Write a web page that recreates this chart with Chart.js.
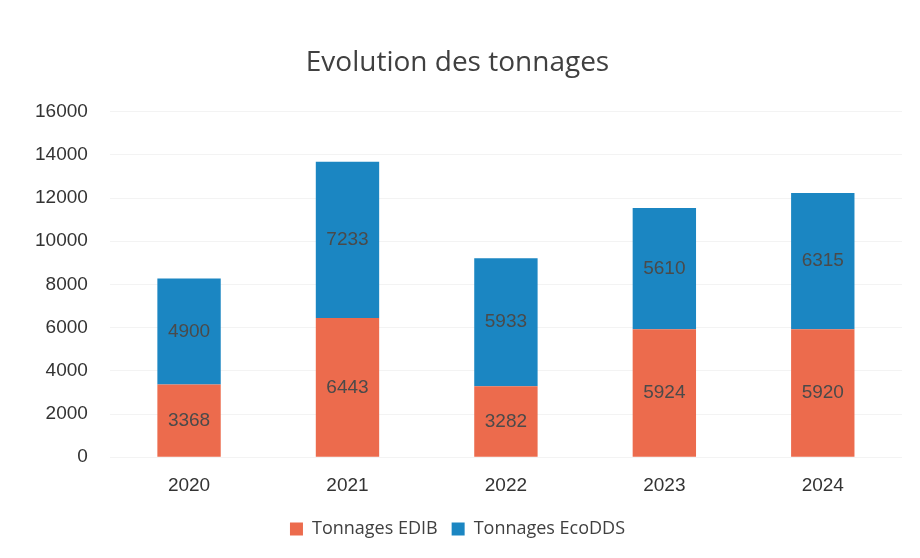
<!DOCTYPE html>
<html>
<head>
<meta charset="utf-8">
<script src="https://cdn.jsdelivr.net/npm/chart.js@4.4.1/dist/chart.umd.min.js"></script>
<style>
  html, body { margin: 0; padding: 0; background: #ffffff; }
  #wrap { width: 920px; height: 558px; }
</style>
</head>
<body>
<div id="wrap"><canvas id="chart" width="920" height="558"></canvas></div>
<script>
/* --------------- Data --------------------- */
const years = ["2020", "2021", "2022", "2023", "2024"];
const edib = [3368, 6443, 3282, 5924, 5920];
const ecodds = [4900, 7233, 5933, 5610, 6315];

/* --------------- Colors --------------------- */
const edibColor = "#EC6B4D";
const ecoddsColor = "#1B86C2";

/* --------------- Labels inside the bars --------------------- */
const barLabels = {
  id: "barLabels",
  afterDatasetsDraw(chart) {
    const ctx = chart.ctx;
    ctx.save();
    ctx.font = "19px 'Liberation Sans Narrow', 'Liberation Sans', sans-serif";
    ctx.fillStyle = "#4a4a4a";
    ctx.textAlign = "center";
    ctx.textBaseline = "middle";
    chart.data.datasets.forEach((ds, di) => {
      chart.getDatasetMeta(di).data.forEach((bar, i) => {
        const mid = (bar.y + bar.base) / 2;
        ctx.fillText(String(ds.data[i]), bar.x, mid);
      });
    });
    ctx.restore();
  }
};

let chart = new Chart(document.getElementById("chart"), {
  type: "bar",
  plugins: [barLabels],
  data: {
    labels: years,
    datasets: [
      { label: "Tonnages EDIB", data: edib, backgroundColor: edibColor, barPercentage: 0.8, categoryPercentage: 0.5 },
      { label: "Tonnages EcoDDS", data: ecodds, backgroundColor: ecoddsColor, barPercentage: 0.8, categoryPercentage: 0.5 },
    ],
  },
  options: {
    responsive: false,
    animation: false,
    layout: { padding: { left: 13, right: 18, top: 30, bottom: 10 } },
    plugins: {
      tooltip: { enabled: false },
      title: {
        display: true,
        text: "Evolution des tonnages",
        color: "#404040",
        font: { family: "'Open Sans', sans-serif", size: 28, weight: "normal" },
        padding: { top: 16, bottom: 32 },
      },
      legend: {
        position: "bottom",
        labels: {
          color: "#404040",
          font: { family: "'Open Sans', sans-serif", size: 18 },
          boxWidth: 13,
          boxHeight: 13,
          padding: 14,
        },
      },
    },
    scales: {
      x: {
        stacked: true,
        grid: { display: false },
        border: { display: false },
        ticks: { color: "#333333", font: { family: "'Liberation Sans', sans-serif", size: 19 }, padding: 9 },
      },
      y: {
        stacked: true,
        min: 0,
        max: 16000,
        grid: { color: "#f3f3f3", drawTicks: false },
        border: { display: false },
        ticks: {
          stepSize: 2000,
          color: "#333333",
          font: { family: "'Liberation Sans', sans-serif", size: 19 },
          padding: 22,
          callback: (v) => String(v),
        },
      },
    },
  },
});
</script>
</body>
</html>
